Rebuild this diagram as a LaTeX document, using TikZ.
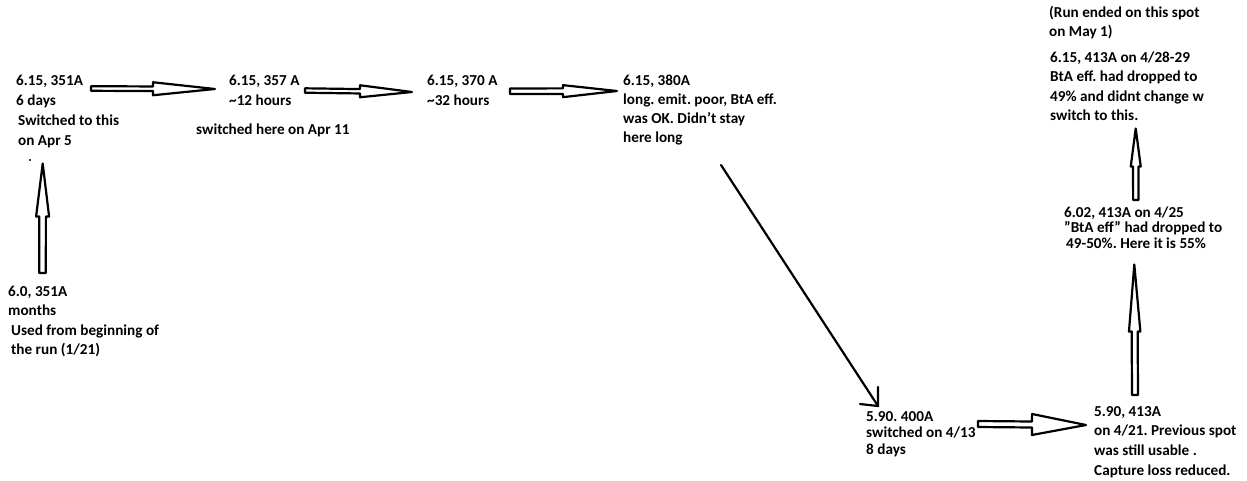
\documentclass[tikz,border=0pt]{standalone}
\usepackage{fontspec}
\setmainfont{Carlito}
\usetikzlibrary{calc}
\frenchspacing
\tikzset{
  lbl/.style={anchor=base west, align=left, inner sep=0pt,
    font=\fontsize{15.2}{20.3}\selectfont\bfseries\frenchspacing},
  lead/.style={font=\fontsize{15.2}{#1}\selectfont\bfseries\frenchspacing},
  hollow/.style={draw=black, line width=2.2pt, line join=round, fill=white},
  thinarrow/.style={draw=black, line width=2.2pt, line cap=round},
}
\newcommand\hollowarrow[5]{%
  \coordinate (hh) at ($(#2)!#5!(#1)$);
  \draw[hollow] ($(#1)!#3!90:(#2)$) -- ($(hh)!#3!90:(#2)$) -- ($(hh)!#4!90:(#2)$)
    -- (#2) -- ($(hh)!#4!-90:(#2)$) -- ($(hh)!#3!-90:(#2)$) -- ($(#1)!#3!-90:(#2)$) -- cycle;}
\begin{document}
\begin{tikzpicture}[x=1pt,y=-1pt]
\useasboundingbox[fill=white] (0,0) rectangle (1247,480);

% text nodes (anchored at the baseline of their last line)
\node[lbl] (a) at (16,145.9) {6.15, 351A\\6 days\\\hspace{2pt}Switched to this\\\hspace{2pt}on Apr 5};
\node[lbl] (b) at (229,105.3) {6.15, 357 A\\\textasciitilde12 hours};
\node[lbl] (b2) at (196,134) {switched here on Apr 11};
\node[lbl] (c) at (427,105.3) {6.15, 370 A\\\textasciitilde32 hours};
\node[lbl, lead=19.3] (d) at (623,142.9) {6.15, 380A\\long. emit. poor, BtA eff.\\was OK. Didn\symbol{39}t stay\\here long};
\node[lbl, lead=16.5] (e) at (866,454) {5.90. 400A\\switched on 4/13\\8 days};
\node[lbl, lead=19.7] (f) at (1094,475.1) {5.90, 413A\\on 4/21. Previous spot\\was still usable .\\Capture loss reduced.};
\node[lbl, lead=15.5] (g) at (1064,248) {6.02, 413A on 4/25\\\symbol{34}BtA eff\symbol{34} had dropped to\\\hspace{2pt}49-50\%. Here it is 55\%};
\node[lbl, lead=19] (h0) at (1049,36) {(Run ended on this spot\\on May 1)};
\node[lbl, lead=19.5] (h) at (1050,120.5) {6.15, 413A on 4/28-29\\BtA eff. had dropped to\\49\% and didnt change w\\switch to this.};
\node[lbl, lead=19.5] (i) at (8,354.5) {6.0, 351A\\months\\\hspace{3pt}Used from beginning of\\\hspace{3pt}the run (1/21)};
\node[circle, fill=black, inner sep=0pt, minimum size=2.2pt] (dot) at (30,160) {};

% arrow end points
\coordinate (a1s) at (91,88.5);   \coordinate (a1e) at (215,89);
\coordinate (a2s) at (305,90.5);  \coordinate (a2e) at (412,92);
\coordinate (a3s) at (510,91.3);  \coordinate (a3e) at (617,91);
\coordinate (a4s) at (978,424);   \coordinate (a4e) at (1086,425);
\coordinate (a5s) at (1135,395);  \coordinate (a5e) at (1134.3,264.5);
\coordinate (a6s) at (1135.8,200);\coordinate (a6e) at (1135.7,128.5);
\coordinate (a7s) at (42.5,273);  \coordinate (a7e) at (42.7,163.5);

\hollowarrow{a1s}{a1e}{2.3pt}{6.5pt}{62pt}
\hollowarrow{a2s}{a2e}{2.2pt}{6pt}{52pt}
\hollowarrow{a3s}{a3e}{2.8pt}{6pt}{54pt}
\hollowarrow{a4s}{a4e}{3pt}{10.5pt}{54pt}
\hollowarrow{a5s}{a5e}{3pt}{5.7pt}{67pt}
\hollowarrow{a6s}{a6e}{2.7pt}{5pt}{38pt}
\hollowarrow{a7s}{a7e}{3.3pt}{6.5pt}{53pt}

% diagonal line arrow
\coordinate (ds) at (721,165);
\coordinate (de) at (878,406);
\coordinate (dh1) at (860,404);
\coordinate (dh2) at (878,387);
\draw[thinarrow] (ds) -- (de);
\draw[thinarrow] (dh1) -- (de) -- (dh2);
\end{tikzpicture}
\end{document}
